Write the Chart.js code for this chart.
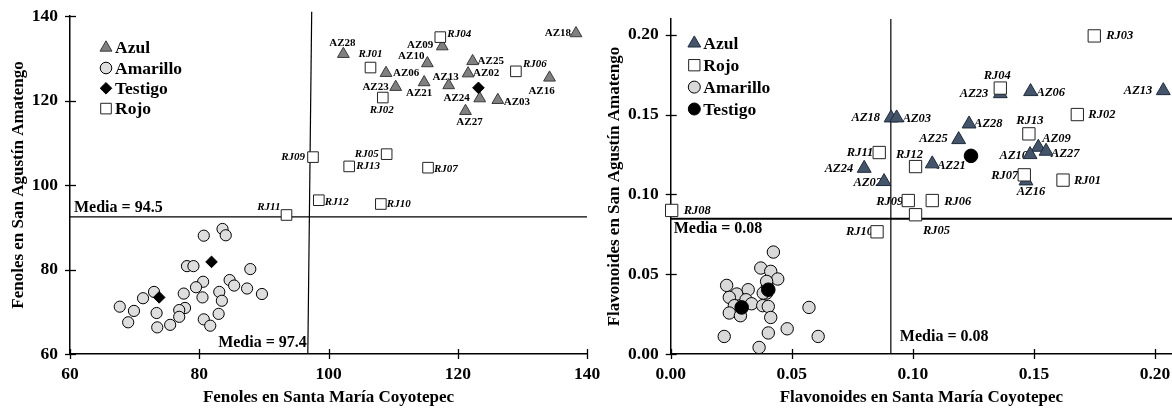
<!DOCTYPE html>
<html><head><meta charset="utf-8">
<script src="https://cdn.jsdelivr.net/npm/chart.js@4.4.1/dist/chart.umd.min.js"></script>
<style>
html,body{margin:0;padding:0;background:#fff;}
#wrap{position:relative;width:1172px;height:409px;overflow:hidden;}
canvas{position:absolute;left:0;top:0;}
</style></head><body>
<div id="wrap"><canvas id="c1" width="1172" height="409"></canvas><canvas id="c2" width="1172" height="409"></canvas></div>
<script>
const FONT = "'Liberation Serif','Times New Roman',serif";

// ---------- Fenoles (left chart) ----------
const fenAzulNames = ['AZ28','AZ09','AZ10','AZ06','AZ23','AZ21','AZ13','AZ25','AZ02','AZ24','AZ27','AZ03','AZ16','AZ18'];
const fenAzulX = [102.3,117.6,115.3,108.9,110.4,114.8,118.6,122.3,121.6,123.4,121.2,126.2,134.2,138.3];
const fenAzulY = [131.0,132.8,128.8,126.5,123.2,124.3,123.6,129.3,126.4,120.5,117.5,120.1,125.4,135.9];
const fenRojoNames = ['RJ04','RJ01','RJ02','RJ06','RJ09','RJ05','RJ13','RJ07','RJ12','RJ10','RJ11'];
const fenRojoX = [117.3,106.5,108.4,129.0,97.6,109.0,103.2,115.4,98.5,108.1,93.5];
const fenRojoY = [135.0,127.8,120.7,126.9,106.6,107.3,104.4,104.1,96.4,95.5,92.9];
const fenTestigoX = [123.2,81.9,73.8];
const fenTestigoY = [123.0,81.8,73.4];
const fenAmarilloX = [80.7,83.6,84.1,78.1,79.1,87.9,80.6,84.7,85.4,79.5,87.4,89.7,73.0,71.3,77.6,80.5,83.1,83.5,67.7,69.9,73.4,77.8,76.9,76.9,83.0,69.0,73.5,75.5,80.7,81.7];
const fenAmarilloY = [88.0,89.6,88.1,80.8,80.8,80.1,77.1,77.5,76.2,75.8,75.5,74.2,74.7,73.2,74.3,73.4,74.7,72.6,71.2,70.2,69.7,70.9,70.4,68.8,69.5,67.5,66.3,66.9,68.2,66.7];
const fenMediaVX = [96.8,97.4], fenMediaVY = [60,141];
const fenMediaHX = [60,140], fenMediaHY = [92.45,92.45];
const fenMediaTexts = ['Media = 94.5','Media = 97.4'];
const fenTicks = [60,80,100,120,140];

// ---------- Flavonoides (right chart) ----------
const flaAzulNames = ['AZ18','AZ03','AZ28','AZ25','AZ21','AZ06','AZ23','AZ09','AZ27','AZ10','AZ16','AZ13','AZ24','AZ02'];
const flaAzulX = [0.0910,0.0933,0.1232,0.1189,0.1080,0.1486,0.1361,0.1518,0.1550,0.1484,0.1467,0.2034,0.0799,0.0881];
const flaAzulY = [0.1480,0.1480,0.1442,0.1344,0.1192,0.1645,0.1632,0.1296,0.1271,0.1250,0.1085,0.1651,0.1164,0.1081];
const flaRojoNames = ['RJ03','RJ04','RJ02','RJ13','RJ11','RJ12','RJ07','RJ01','RJ09','RJ06','RJ05','RJ10','RJ08'];
const flaRojoX = [0.1749,0.1361,0.1679,0.1479,0.0861,0.1011,0.1460,0.1620,0.0981,0.1080,0.1011,0.0852,0.0004];
const flaRojoY = [0.1994,0.1667,0.1501,0.1380,0.1263,0.1175,0.1123,0.1090,0.0962,0.0962,0.0873,0.0766,0.0900];
const flaTestigoX = [0.1240,0.0403,0.0293];
const flaTestigoY = [0.1242,0.0403,0.0292];
const flaAmarilloX = [0.0424,0.0372,0.0413,0.0442,0.0231,0.0273,0.0320,0.0242,0.0311,0.0334,0.0263,0.0242,0.0288,0.0380,0.0399,0.0396,0.0403,0.0413,0.0481,0.0571,0.0609,0.0221,0.0403,0.0365,0.0382,0.0396];
const flaAmarilloY = [0.0639,0.0539,0.0518,0.0470,0.0430,0.0376,0.0403,0.0355,0.0340,0.0315,0.0303,0.0257,0.0240,0.0303,0.0420,0.0382,0.0298,0.0229,0.0158,0.0292,0.0110,0.0110,0.0132,0.0041,0.0382,0.0455];
const flaMediaVX = [0.0909,0.0909], flaMediaVY = [0,0.21];
const flaMediaHX = [0,0.207], flaMediaHY = [0.0848,0.0848];
const flaMediaTexts = ['Media = 0.08','Media = 0.08'];
const flaTicks = [0,0.05,0.10,0.15,0.20];

// label placement styles: [textAlign, dx, dy] in px relative to the marker
const fenLabelPos = {
  AZ28:['center',-1,-11], AZ09:['right',-9,-1], AZ10:['right',-3,-7], AZ06:['left',7,0], AZ23:['right',-7,0],
  AZ21:['center',-5,11], AZ13:['center',-3,-8], AZ25:['left',5,0], AZ02:['left',5,0], AZ24:['right',-10,0],
  AZ27:['center',4,11], AZ03:['left',6,2], AZ16:['center',-8,13], AZ18:['right',-5,0],
  RJ04:['left',7,-3], RJ01:['center',0,-13], RJ02:['center',-1,13], RJ06:['left',7,-7], RJ09:['right',-8,0],
  RJ05:['right',-8,0], RJ13:['left',7,0], RJ07:['left',6,1], RJ12:['left',6,2], RJ10:['left',6,0], RJ11:['right',-6,-8]
};
const flaLabelPos = {
  AZ18:['right',-11,0], AZ03:['left',6,1], AZ28:['left',5,0], AZ25:['right',-11,-1], AZ21:['left',5,2],
  AZ06:['left',6,1], AZ23:['right',-12,0], AZ09:['left',4,-8], AZ27:['left',5,3], AZ10:['right',-2,1],
  AZ16:['center',5,11], AZ13:['right',-11,0], AZ24:['right',-11,0], AZ02:['right',-2,1],
  RJ03:['left',12,0], RJ04:['center',-3,-12], RJ02:['left',11,0], RJ13:['center',1,-13], RJ11:['right',-6,0],
  RJ12:['center',-6,-12], RJ07:['right',-6,1], RJ01:['left',11,1], RJ09:['right',-5,1], RJ06:['left',12,1],
  RJ05:['center',21,16], RJ10:['right',-4,0], RJ08:['left',12,0]
};

const pts = (xs, ys) => xs.map((x, i) => ({x, y: ys[i]}));

function shape(ctx, style, x, y, r){
  ctx.beginPath();
  if (style === 'triangle'){ ctx.moveTo(x, y - r); ctx.lineTo(x + r*0.866, y + r/2); ctx.lineTo(x - r*0.866, y + r/2); ctx.closePath(); }
  else if (style === 'rect'){ const s = r*Math.SQRT1_2; ctx.rect(x - s, y - s, 2*s, 2*s); }
  else if (style === 'rectRot'){ ctx.moveTo(x - r, y); ctx.lineTo(x, y - r); ctx.lineTo(x + r, y); ctx.lineTo(x, y + r); ctx.closePath(); }
  else { ctx.arc(x, y, r, 0, Math.PI*2); }
}

function labelPlugin(posMap){
  return { id:'ptLabels', beforeDatasetsDraw(chart){
    const ctx = chart.ctx;
    chart.data.datasets.forEach((ds, i) => {
      if (!ds.names) return;
      const meta = chart.getDatasetMeta(i);
      ctx.save();
      ctx.fillStyle = '#000'; ctx.textBaseline = 'middle'; ctx.font = ds.labelFont;
      meta.data.forEach((el, j) => {
        const nm = ds.names[j]; const p = posMap[nm] || ['left',6,0];
        ctx.textAlign = p[0];
        ctx.fillText(nm, el.x + p[1], el.y + p[2]);
      });
      ctx.restore();
    });
  }};
}

function decorPlugin(cfg){
  return { id:'decor', afterDraw(chart){
    const ctx = chart.ctx, xs = chart.scales.x, ys = chart.scales.y, ca = chart.chartArea;
    ctx.save();
    ctx.strokeStyle = '#000'; ctx.lineWidth = 1.3;
    ys.ticks.forEach(t => { const p = Math.round(ys.getPixelForValue(t.value)) + 0.5; ctx.beginPath(); ctx.moveTo(ca.left - 5, p); ctx.lineTo(ca.left + 6, p); ctx.stroke(); });
    xs.ticks.forEach(t => { const p = Math.round(xs.getPixelForValue(t.value)) + 0.5; ctx.beginPath(); ctx.moveTo(p, ca.bottom - 5); ctx.lineTo(p, ca.bottom + 5); ctx.stroke(); });
    // legend
    ctx.font = 'bold 17.5px ' + FONT; ctx.textBaseline = 'middle'; ctx.textAlign = 'left';
    cfg.legend.forEach((it, k) => {
      const mx = ca.left + cfg.legX, my = ca.top + cfg.legY + k*cfg.legDy;
      shape(ctx, it.style, mx, my, it.r);
      ctx.fillStyle = it.fill; ctx.fill();
      ctx.lineWidth = 1; ctx.strokeStyle = it.stroke; ctx.stroke();
      ctx.fillStyle = '#000';
      ctx.fillText(it.label, mx + 9, my + 1);
    });
    // media texts
    ctx.font = 'bold 16px ' + FONT; ctx.fillStyle = '#000';
    cfg.texts(xs, ys, ca).forEach(t => { ctx.textAlign = t.align; ctx.fillText(t.text, t.x, t.y); });
    ctx.restore();
  }};
}

function filterTicks(step){
  return function(scale){
    scale.ticks = scale.ticks.filter(t => Math.abs(t.value/step - Math.round(t.value/step)) < 1e-6);
  };
}

function scaleOpts(min, max, step, title, isX, fmt, titlePad, fitSize){
  return {
    type:'linear', min, max,
    afterBuildTicks: filterTicks(step),
    ticks:{ stepSize:step, includeBounds:false, color:'#000', font:{family:FONT, size:17.5, weight:'bold'}, padding: isX ? 10 : 12, maxRotation:0, autoSkip:false,
            callback: fmt },
    grid:{ display:false, drawTicks:false, tickLength:0 },
    border:{ display:true, color:'#000', width:1.5 },
    title:{ display:true, text:title, color:'#000', font:{family:FONT, size:17, weight:'bold'}, padding:titlePad },
    afterFit(s){
      if (isX) { s.height = fitSize; s.paddingLeft = 0; s.paddingRight = 0; }
      else { s.width = fitSize; s.paddingTop = 0; s.paddingBottom = 0; }
    }
  };
}

function lineDs(xs, ys, w){
  return { data: pts(xs, ys), showLine:true, pointRadius:0, borderColor:'#000', borderWidth:w, clip:false, order:10, fill:false };
}

// Left chart
new Chart(document.getElementById('c1'), {
  type:'scatter',
  data:{ datasets:[
    { names:fenRojoNames, labelFont:'italic bold 11px '+FONT, data:pts(fenRojoX, fenRojoY), pointStyle:'rect', pointRadius:7.5, backgroundColor:'#fff', borderColor:'#222', borderWidth:1, order:0, clip:false },
    { data:pts(fenTestigoX, fenTestigoY), pointStyle:'rectRot', pointRadius:5.8, backgroundColor:'#000', borderColor:'#000', borderWidth:1, order:1, clip:false },
    { data:pts(fenAmarilloX, fenAmarilloY), pointStyle:'circle', pointRadius:5.6, backgroundColor:'#dedede', borderColor:'#000', borderWidth:1, order:2, clip:false },
    { names:fenAzulNames, labelFont:'bold 11px '+FONT, data:pts(fenAzulX, fenAzulY), pointStyle:'triangle', pointRadius:6.8, backgroundColor:'#808080', borderColor:'#3a3a3a', borderWidth:1, order:3, clip:false },
    lineDs(fenMediaVX, fenMediaVY, 1.2),
    lineDs(fenMediaHX, fenMediaHY, 1.2)
  ]},
  options:{
    responsive:false, animation:false, events:[],
    layout:{ autoPadding:false, padding:{ left:0, top:16, right:585, bottom:0 } },
    plugins:{ legend:{display:false}, tooltip:{enabled:false} },
    scales:{
      x: scaleOpts(fenTicks[0], fenTicks[4], 20, 'Fenoles en Santa María Coyotepec', true, v => String(v), {top:0,bottom:1}, 55),
      y: scaleOpts(fenTicks[0], fenTicks[4], 20, 'Fenoles en San Agustín Amatengo', false, v => String(v), {top:8,bottom:0}, 70)
    }
  },
  plugins:[ labelPlugin(fenLabelPos), decorPlugin({
    legX:36, legY:31.7, legDy:20.3,
    legend:[
      {style:'triangle', r:6.9, fill:'#808080', stroke:'#3a3a3a', label:'Azul'},
      {style:'circle', r:5.8, fill:'#dedede', stroke:'#000', label:'Amarillo'},
      {style:'rectRot', r:5.8, fill:'#000', stroke:'#000', label:'Testigo'},
      {style:'rect', r:7.5, fill:'#fff', stroke:'#222', label:'Rojo'}
    ],
    texts:(xs, ys, ca) => [
      {text:fenMediaTexts[0], align:'left', x:ca.left + 4, y:ys.getPixelForValue(fenMediaHY[0]) - 9},
      {text:fenMediaTexts[1], align:'right', x:xs.getPixelForValue(fenMediaVX[0]) - 1, y:ca.bottom - 11}
    ]
  }) ]
});

// Right chart
new Chart(document.getElementById('c2'), {
  type:'scatter',
  data:{ datasets:[
    { names:flaRojoNames, labelFont:'italic bold 12.5px '+FONT, data:pts(flaRojoX, flaRojoY), pointStyle:'rect', pointRadius:8.7, backgroundColor:'#fff', borderColor:'#222', borderWidth:1, order:0, clip:false },
    { data:pts(flaTestigoX, flaTestigoY), pointStyle:'circle', pointRadius:6.8, backgroundColor:'#000', borderColor:'#000', borderWidth:1, order:1, clip:false },
    { data:pts(flaAmarilloX, flaAmarilloY), pointStyle:'circle', pointRadius:6.2, backgroundColor:'#d9d9d9', borderColor:'#000', borderWidth:1, order:2, clip:false },
    { names:flaAzulNames, labelFont:'italic bold 12.5px '+FONT, data:pts(flaAzulX, flaAzulY), pointStyle:'triangle', pointRadius:8, backgroundColor:'#44546a', borderColor:'#1f2a3a', borderWidth:1, order:3, clip:false },
    lineDs(flaMediaVX, flaMediaVY, 1.2),
    lineDs(flaMediaHX, flaMediaHY, 2)
  ]},
  options:{
    responsive:false, animation:false, events:[],
    layout:{ autoPadding:false, padding:{ left:600, top:19, right:0, bottom:0 } },
    plugins:{ legend:{display:false}, tooltip:{enabled:false} },
    scales:{
      x: scaleOpts(flaTicks[0], flaMediaHX[1], 0.05, 'Flavonoides en Santa María Coyotepec', true, v => Number(v).toFixed(2), {top:0,bottom:1}, 55),
      y: scaleOpts(flaTicks[0], flaMediaVY[1], 0.05, 'Flavonoides en San Agustín Amatengo', false, v => Number(v).toFixed(2), {top:4,bottom:0}, 70.7)
    }
  },
  plugins:[ labelPlugin(flaLabelPos), decorPlugin({
    legX:23.6, legY:24.3, legDy:21.9,
    legend:[
      {style:'triangle', r:7.4, fill:'#44546a', stroke:'#1f2a3a', label:'Azul'},
      {style:'rect', r:8, fill:'#fff', stroke:'#222', label:'Rojo'},
      {style:'circle', r:6, fill:'#d9d9d9', stroke:'#000', label:'Amarillo'},
      {style:'circle', r:6, fill:'#000', stroke:'#000', label:'Testigo'}
    ],
    texts:(xs, ys, ca) => [
      {text:flaMediaTexts[0], align:'left', x:ca.left + 3, y:ys.getPixelForValue(flaMediaHY[0]) + 10},
      {text:flaMediaTexts[1], align:'left', x:xs.getPixelForValue(flaMediaVX[0]) + 9, y:ca.bottom - 17.5}
    ]
  }) ]
});
</script>
</body></html>
